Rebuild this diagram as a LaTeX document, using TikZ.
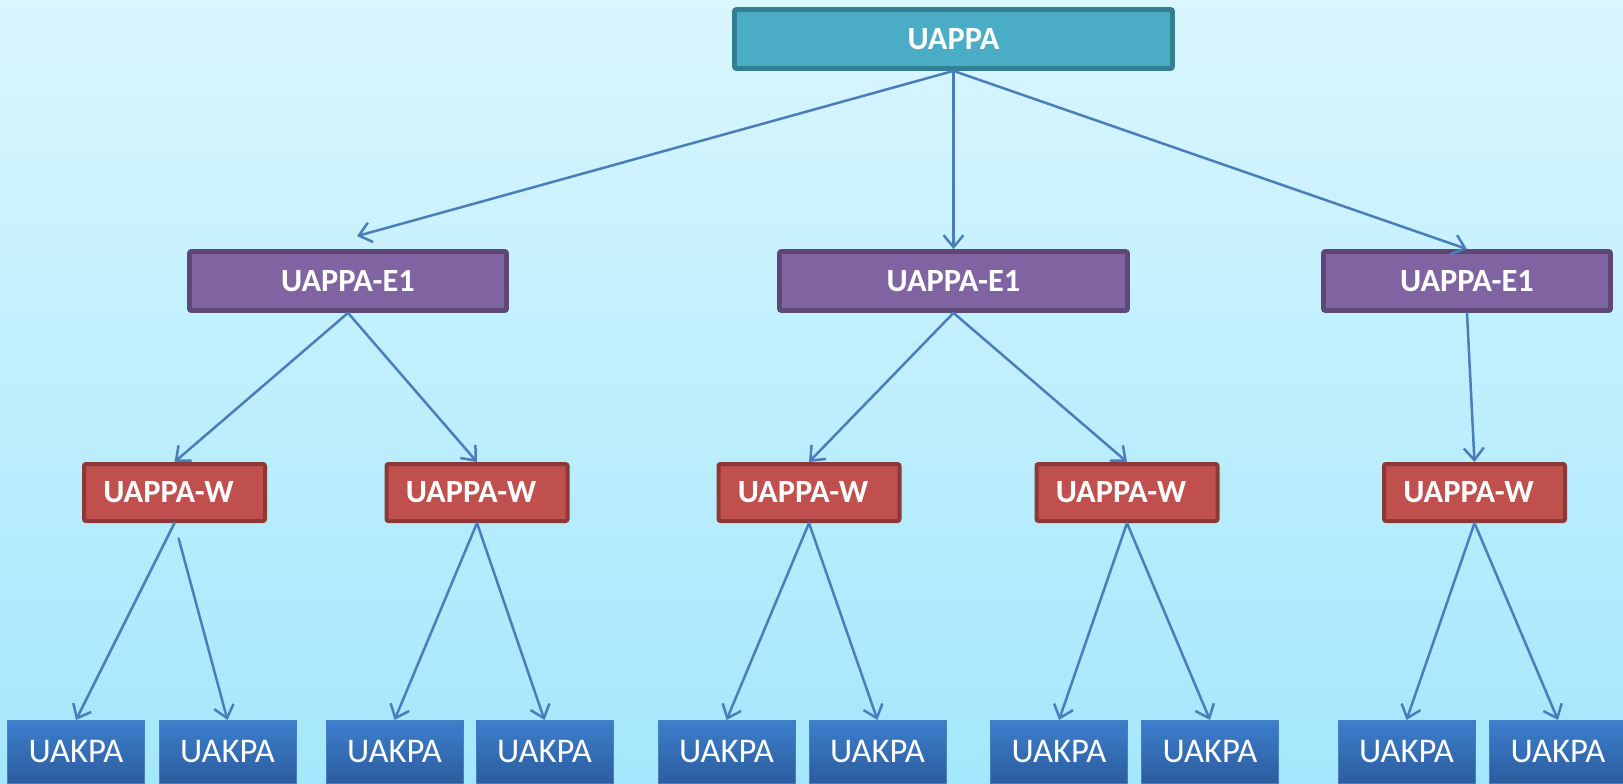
\documentclass[tikz,border=0pt]{standalone}
\usepackage{fontspec}
\setmainfont{Carlito}
\usepackage{xcolor}
\usetikzlibrary{arrows.meta,positioning,calc}
\definecolor{skytop}{RGB}{218,246,255}
\definecolor{skybot}{RGB}{164,231,252}
\definecolor{rootfill}{RGB}{75,172,198}
\definecolor{rootedge}{RGB}{52,126,145}
\definecolor{zonefill}{RGB}{128,100,162}
\definecolor{zoneedge}{RGB}{94,72,120}
\definecolor{wardfill}{RGB}{192,80,77}
\definecolor{wardedge}{RGB}{140,56,54}
\definecolor{unittop}{RGB}{60,127,204}
\definecolor{unitbot}{RGB}{44,92,158}
\definecolor{unitedge}{RGB}{74,126,190}
\definecolor{linkblue}{RGB}{74,126,187}
\begin{document}
\begin{tikzpicture}[
    x=0.5pt, y=-0.5pt,
    >={Straight Barb[length=6pt,width=10pt]},
    root/.style={draw=rootedge, line width=2.4pt, fill=rootfill, rounded corners=1pt, text=white, font=\fontsize{16.2}{19}\selectfont\bfseries, inner sep=0pt, minimum width=219pt, minimum height=29.5pt},
    zone/.style={draw=zoneedge, line width=2.4pt, fill=zonefill, rounded corners=1pt, text=white, font=\fontsize{16.2}{19}\selectfont\bfseries, inner sep=0pt, minimum height=29.5pt},
    ward/.style={draw=wardedge, line width=2pt, fill=wardfill, rounded corners=1pt, text=white, font=\fontsize{16.2}{19}\selectfont\bfseries, inner sep=0pt, minimum width=90.5pt, minimum height=28.5pt},
    unit/.style={draw=unitedge, line width=0.5pt, top color=unittop, bottom color=unitbot, text=white, font=\fontsize{17.3}{20}\selectfont, inner sep=0pt, minimum width=68.5pt, minimum height=31.5pt},
    link/.style={draw=linkblue, line width=1.25pt, line cap=round, ->}
]
\clip (0,0) rectangle (1623,783);
\shade[top color=skytop, bottom color=skybot] (0,0) rectangle (1623,783);
% top level
\node[root] (uappa) at (953.5,39) {UAPPA};
% E1 level
\node[zone, minimum width=158.5pt] (ea) at (348,281) {UAPPA-E1};
\node[zone, minimum width=174pt] (eb) at (953.5,281) {UAPPA-E1};
\node[zone, minimum width=143.5pt] (ec) at (1467,281) {UAPPA-E1};
% W level
\node[ward] (wa) at (174.5,492.5) {\hspace*{-6pt}UAPPA-W};
\node[ward] (wb) at (477,492.5) {\hspace*{-6pt}UAPPA-W};
\node[ward] (wc) at (809,492.5) {\hspace*{-6pt}UAPPA-W};
\node[ward] (wd) at (1127,492.5) {\hspace*{-6pt}UAPPA-W};
\node[ward] (we) at (1474.5,492.5) {\hspace*{-6pt}UAPPA-W};
% UAKPA level
\node[unit] (ka) at (76,752) {UAKPA};
\node[unit] (kb) at (227.5,752) {UAKPA};
\node[unit] (kc) at (394.5,752) {UAKPA};
\node[unit] (kd) at (544.5,752) {UAKPA};
\node[unit] (ke) at (726.5,752) {UAKPA};
\node[unit] (kf) at (877.5,752) {UAKPA};
\node[unit] (kg) at (1059,752) {UAKPA};
\node[unit] (kh) at (1210,752) {UAKPA};
\node[unit] (ki) at (1406.5,752) {UAKPA};
\node[unit] (kj) at (1558,752) {UAKPA};
% connectors
\draw[link] (uappa.south) -- ([shift={(9,-13)}]ea.north);
\draw[link] (uappa.south) -- (eb.north);
\draw[link] (uappa.south) -- (ec.north);
\draw[link] (ea.south) -- (wa.north);
\draw[link] (ea.south) -- (wb.north);
\draw[link] (eb.south) -- (wc.north);
\draw[link] (eb.south) -- (wd.north);
\draw[link] (ec.south) -- (we.north);
\draw[link] (wa.south) -- (ka.north);
\draw[link, shorten <=8pt] (wa.south) -- (kb.north);
\draw[link] (wb.south) -- (kc.north);
\draw[link] (wb.south) -- (kd.north);
\draw[link] (wc.south) -- (ke.north);
\draw[link] (wc.south) -- (kf.north);
\draw[link] (wd.south) -- (kg.north);
\draw[link] (wd.south) -- (kh.north);
\draw[link] (we.south) -- (ki.north);
\draw[link] (we.south) -- (kj.north);
\end{tikzpicture}
\end{document}
